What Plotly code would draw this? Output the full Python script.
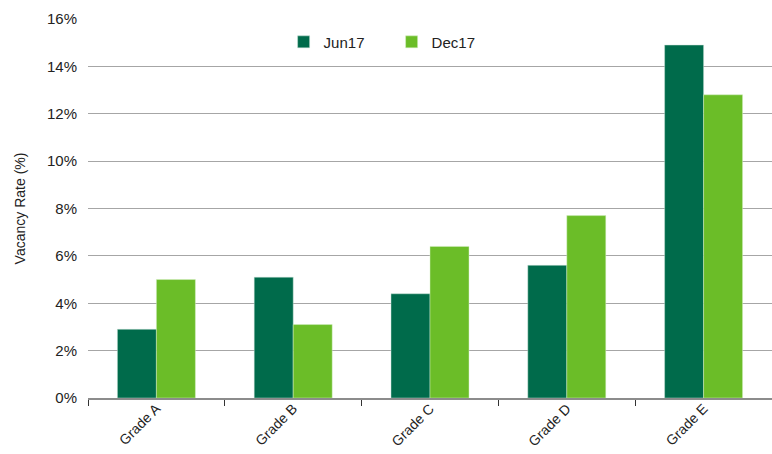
import plotly.graph_objects as go

# Vacancy rate by office grade, two survey periods
grades = ["Grade A", "Grade B", "Grade C", "Grade D", "Grade E"]
jun17 = [2.9, 5.1, 4.4, 5.6, 14.9]
dec17 = [5.0, 3.1, 6.4, 7.7, 12.8]
y_ticks = [0, 2, 4, 6, 8, 10, 12, 14, 16]
y_tick_labels = [f"{v}%" for v in y_ticks]

DARK_GREEN = "#006B4B"
LIGHT_GREEN = "#6BBD28"
FONT = "Liberation Sans, Arial, sans-serif"

fig = go.Figure()
fig.add_trace(go.Bar(
    x=grades, y=jun17, name="Jun17",
    marker=dict(color=DARK_GREEN, line=dict(color="rgba(200,225,215,0.8)", width=0.6)),
))
fig.add_trace(go.Bar(
    x=grades, y=dec17, name="Dec17",
    marker=dict(color=LIGHT_GREEN, line=dict(color="rgba(215,240,200,0.8)", width=0.6)),
))

fig.update_layout(
    width=772, height=454,
    margin=dict(l=88, r=0, t=19, b=56),
    paper_bgcolor="white", plot_bgcolor="white",
    barmode="group", bargap=0.43, bargroupgap=0,
    font=dict(family=FONT, size=15, color="#222222"),
    legend=dict(
        orientation="h", x=0.286, y=0.939, xanchor="left", yanchor="middle",
        font=dict(family=FONT, size=15, color="#222222"),
        entrywidth=63, entrywidthmode="pixels",
        bgcolor="rgba(0,0,0,0)", itemclick=False,
    ),
    showlegend=True,
)

fig.update_xaxes(
    automargin=False,
    showline=True, linecolor="#8c8c8c", linewidth=2,
    ticks="outside", tickcolor="#333333", ticklen=6, tickwidth=1,
    tickson="boundaries", tickangle=-45, ticklabelstandoff=-5,
    tickfont=dict(family=FONT, size=14, color="#222222"),
    showgrid=False,
)
fig.update_yaxes(
    range=[0, 16], tickvals=y_ticks, ticktext=y_tick_labels,
    showgrid=True, gridcolor="#a6a6a6", gridwidth=1,
    showline=False, zeroline=False, ticks="", ticklabelstandoff=10,
    tickfont=dict(family=FONT, size=15, color="#222222"),
    title=dict(text="Vacancy Rate (%)", font=dict(family=FONT, size=14, color="#222222"), standoff=18),
)

fig.write_html("out.html")
